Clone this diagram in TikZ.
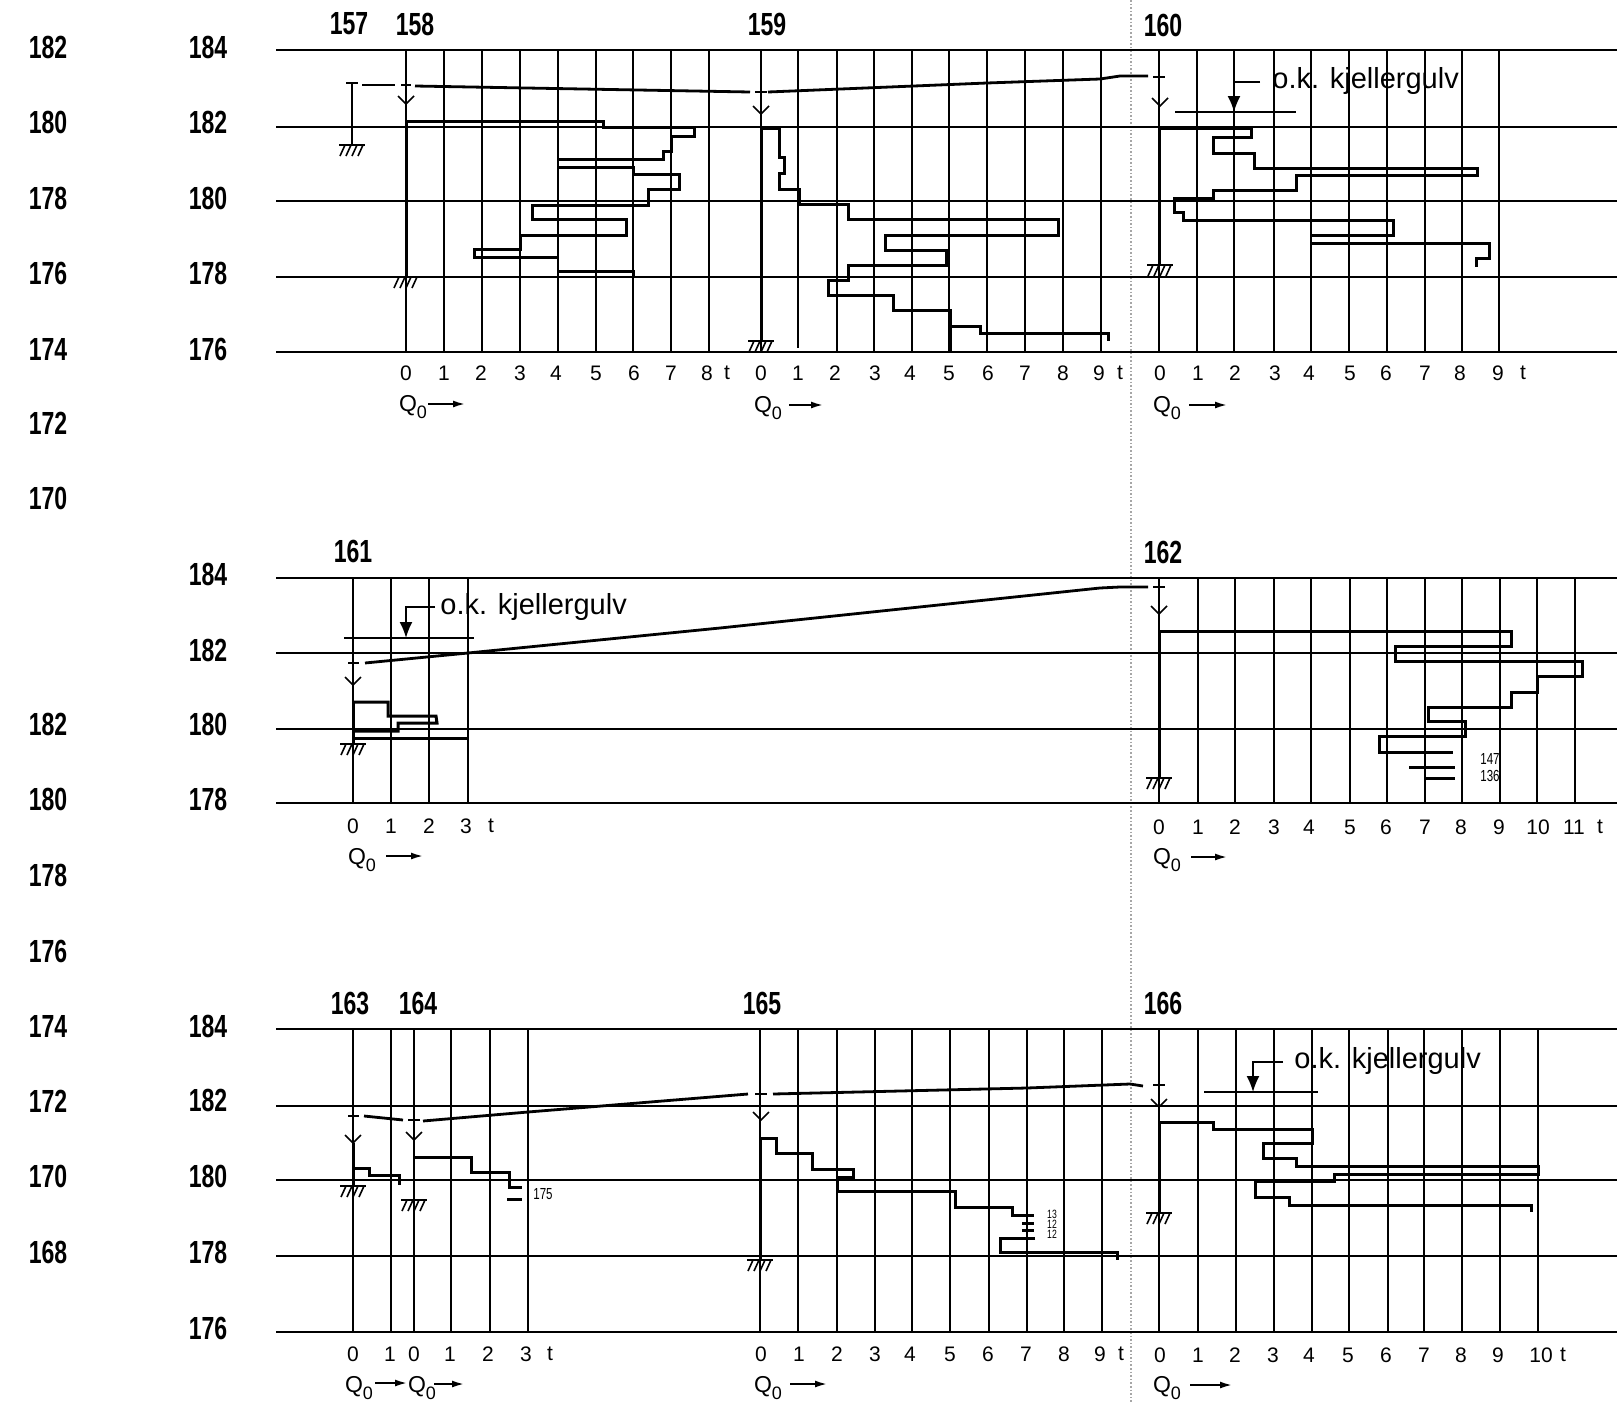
\documentclass[tikz,border=0pt]{standalone}
\usepackage{fontspec}
\setmainfont{Liberation Sans}
\newfontfamily\elevfont[FakeStretch=0.72]{Liberation Sans}
\usetikzlibrary{arrows.meta}
\newcommand{\Qzero}{Q\raisebox{-3.5pt}{\small 0}}
\tikzset{
  gridline/.style={black, line width=0.8pt},
  boring/.style={black, line width=1.5pt, line join=miter},
  waterline/.style={black, line width=1.4pt},
  elev/.style={font=\elevfont\bfseries\fontsize{16}{16}\selectfont, inner sep=0pt},
  ticknum/.style={font=\fontsize{10.5}{10.5}\selectfont, inner sep=0pt},
  qlabel/.style={font=\fontsize{11.5}{11.5}\selectfont, inner sep=0pt},
  floorlabel/.style={font=\fontsize{14.5}{14.5}\selectfont, inner sep=0pt},
  smallnum/.style={font=\elevfont\fontsize{8}{8}\selectfont, inner sep=0pt},
  tinynum/.style={font=\elevfont\fontsize{6}{6}\selectfont, inner sep=0pt},
  qarrow/.style={black, line width=0.9pt, -{Latex[length=6pt,width=3.5pt]}},
  floorarrow/.style={black, line width=0.9pt, -{Latex[length=8pt,width=6.5pt]}},
  groundmark/.pic={
    \draw[gridline] (-13,0) -- (13,0);
    \draw[gridline] (-12,11) -- (-7,0);
    \draw[gridline] (-6,11) -- (-1,0);
    \draw[gridline] (0,11) -- (5,0);
    \draw[gridline] (6,11) -- (11,0);
  },
  levelarrow/.pic={
    \draw[gridline] (-8,-8) -- (0,0) -- (8,-8);
  }
}
\begin{document}
\begin{tikzpicture}[x=0.5pt, y=-0.5pt]
\useasboundingbox (0,0) rectangle (1617,1403);

\draw[gridline, densely dotted, gray!70] (1131,0) -- (1131,1403);

\node[elev] (la182) at (48,47) {182};
\node[elev] (la180) at (48,122) {180};
\node[elev] (la178) at (48,198) {178};
\node[elev] (la176) at (48,273) {176};
\node[elev] (la174) at (48,349) {174};
\node[elev] (la172) at (48,423) {172};
\node[elev] (la170) at (48,498) {170};
\node[elev] (lb182) at (48,724) {182};
\node[elev] (lb180) at (48,799) {180};
\node[elev] (lb178) at (48,875) {178};
\node[elev] (lb176) at (48,951) {176};
\node[elev] (lb174) at (48,1026) {174};
\node[elev] (lb172) at (48,1101) {172};
\node[elev] (lb170) at (48,1176) {170};
\node[elev] (lb168) at (48,1252) {168};

\node[elev] (ra184) at (208,47) {184};
\node[elev] (ra182) at (208,122) {182};
\node[elev] (ra180) at (208,198) {180};
\node[elev] (ra178) at (208,273) {178};
\node[elev] (ra176) at (208,349) {176};
\node[elev] (rb184) at (208,574) {184};
\node[elev] (rb182) at (208,650) {182};
\node[elev] (rb180) at (208,724) {180};
\node[elev] (rb178) at (208,799) {178};
\node[elev] (rc184) at (208,1026) {184};
\node[elev] (rc182) at (208,1100) {182};
\node[elev] (rc180) at (208,1176) {180};
\node[elev] (rc178) at (208,1252) {178};
\node[elev] (rc176) at (208,1328) {176};

\node[elev] (b157) at (349,24) {157};
\node[elev] (b158) at (415,24) {158};
\node[elev] (b159) at (767,24) {159};
\node[elev] (b160) at (1163,25) {160};
\node[elev] (b161) at (353,551) {161};
\node[elev] (b162) at (1163,552) {162};
\node[elev] (b163) at (350,1003) {163};
\node[elev] (b164) at (418,1003) {164};
\node[elev] (b165) at (762,1003) {165};
\node[elev] (b166) at (1163,1003) {166};

\draw[gridline] (276,50) -- (1617,50);
\draw[gridline] (276,127) -- (1617,127);
\draw[gridline] (276,201) -- (1617,201);
\draw[gridline] (276,277) -- (1617,277);
\draw[gridline] (276,352) -- (1617,352);
\draw[gridline] (276,578) -- (1617,578);
\draw[gridline] (276,653) -- (1617,653);
\draw[gridline] (276,729) -- (1617,729);
\draw[gridline] (276,803) -- (1617,803);
\draw[gridline] (276,1029) -- (1617,1029);
\draw[gridline] (276,1106) -- (1617,1106);
\draw[gridline] (276,1180) -- (1617,1180);
\draw[gridline] (276,1256) -- (1617,1256);
\draw[gridline] (276,1332) -- (1617,1332);

\draw[gridline] (406,50) -- (406,352);
\draw[gridline] (444,50) -- (444,352);
\draw[gridline] (482,50) -- (482,352);
\draw[gridline] (520,50) -- (520,352);
\draw[gridline] (558,50) -- (558,352);
\draw[gridline] (596,50) -- (596,352);
\draw[gridline] (633,50) -- (633,352);
\draw[gridline] (671,50) -- (671,352);
\draw[gridline] (709,50) -- (709,352);
\draw[gridline] (761,50) -- (761,352);
\draw[gridline] (798,50) -- (798,348);
\draw[gridline] (837,50) -- (837,352);
\draw[gridline] (874,50) -- (874,352);
\draw[gridline] (912,50) -- (912,352);
\draw[gridline] (949,50) -- (949,352);
\draw[gridline] (987,50) -- (987,352);
\draw[gridline] (1025,50) -- (1025,352);
\draw[gridline] (1063,50) -- (1063,352);
\draw[gridline] (1101,50) -- (1101,352);
\draw[gridline] (1159,50) -- (1159,352);
\draw[gridline] (1197,50) -- (1197,352);
\draw[gridline] (1234,50) -- (1234,352);
\draw[gridline] (1274,50) -- (1274,352);
\draw[gridline] (1311,50) -- (1311,352);
\draw[gridline] (1349,50) -- (1349,352);
\draw[gridline] (1387,50) -- (1387,352);
\draw[gridline] (1425,50) -- (1425,352);
\draw[gridline] (1462,50) -- (1462,352);
\draw[gridline] (1499,50) -- (1499,352);

\draw[gridline] (353,578) -- (353,803);
\draw[gridline] (391,578) -- (391,803);
\draw[gridline] (429,578) -- (429,803);
\draw[gridline] (468,578) -- (468,803);
\draw[gridline] (1159,578) -- (1159,803);
\draw[gridline] (1198,578) -- (1198,803);
\draw[gridline] (1235,578) -- (1235,803);
\draw[gridline] (1274,578) -- (1274,803);
\draw[gridline] (1311,578) -- (1311,803);
\draw[gridline] (1350,578) -- (1350,803);
\draw[gridline] (1387,578) -- (1387,803);
\draw[gridline] (1425,578) -- (1425,803);
\draw[gridline] (1462,578) -- (1462,803);
\draw[gridline] (1500,578) -- (1500,803);
\draw[gridline] (1537,578) -- (1537,803);
\draw[gridline] (1575,578) -- (1575,803);

\draw[gridline] (353,1029) -- (353,1332);
\draw[gridline] (391,1029) -- (391,1332);
\draw[gridline] (414,1029) -- (414,1332);
\draw[gridline] (451,1029) -- (451,1332);
\draw[gridline] (490,1029) -- (490,1332);
\draw[gridline] (528,1029) -- (528,1332);
\draw[gridline] (760,1029) -- (760,1332);
\draw[gridline] (798,1029) -- (798,1332);
\draw[gridline] (837,1029) -- (837,1332);
\draw[gridline] (875,1029) -- (875,1332);
\draw[gridline] (912,1029) -- (912,1332);
\draw[gridline] (950,1029) -- (950,1332);
\draw[gridline] (989,1029) -- (989,1332);
\draw[gridline] (1027,1029) -- (1027,1332);
\draw[gridline] (1064,1029) -- (1064,1332);
\draw[gridline] (1102,1029) -- (1102,1332);
\draw[gridline] (1159,1029) -- (1159,1332);
\draw[gridline] (1198,1029) -- (1198,1332);
\draw[gridline] (1236,1029) -- (1236,1332);
\draw[gridline] (1274,1029) -- (1274,1332);
\draw[gridline] (1312,1029) -- (1312,1332);
\draw[gridline] (1349,1029) -- (1349,1332);
\draw[gridline] (1388,1029) -- (1388,1332);
\draw[gridline] (1424,1029) -- (1424,1332);
\draw[gridline] (1462,1029) -- (1462,1332);
\draw[gridline] (1500,1029) -- (1500,1332);
\draw[gridline] (1538,1029) -- (1538,1332);

\draw[gridline] (352,83) -- (352,145);
\draw[waterline] (346,83) -- (358,83);
\draw[waterline] (362,85) -- (395,85);
\draw[waterline] (401,85) -- (411,85);
\draw[waterline] (415,86) -- (750,92);
\draw[waterline] (755,92) -- (767,92);
\draw[waterline] (768,92) -- (987,83) -- (1100,79) -- (1120,76) -- (1148,76);
\draw[waterline] (1153,77) -- (1165,77);
\draw[boring] (406,120) -- (406,277);
\draw[boring] (761,127) -- (761,341);
\draw[boring] (1159,128) -- (1159,265);
\draw[boring] (950,310) -- (950,352);
\pic at (352,145) {groundmark};
\pic at (406,277) {groundmark};
\pic at (761,341) {groundmark};
\pic at (1160,265) {groundmark};
\pic at (406,104) {levelarrow};
\pic at (761,114) {levelarrow};
\pic at (1160,106) {levelarrow};

\draw[boring] (406,121) -- (603,121) -- (603,127) -- (694,127) -- (694,136) -- (671,136) -- (671,151) -- (663,151) -- (663,159) -- (558,159);
\draw[boring] (558,167) -- (633,167) -- (633,174) -- (679,174) -- (679,189) -- (648,189) -- (648,205) -- (532,205) -- (532,219) -- (626,219) -- (626,235) -- (520,235) -- (520,249) -- (474,249) -- (474,257) -- (558,257);
\draw[boring] (558,271) -- (633,271) -- (633,277);

\draw[boring] (761,128) -- (779,128) -- (779,157) -- (784,157) -- (784,173) -- (779,173) -- (779,189) -- (799,189) -- (799,204) -- (848,204) -- (848,219) -- (1058,219) -- (1058,235) -- (885,235) -- (885,250) -- (946,250) -- (946,265) -- (848,265) -- (848,280) -- (828,280) -- (828,295) -- (893,295) -- (893,310) -- (950,310) -- (950,326) -- (980,326) -- (980,333) -- (1108,333) -- (1108,341);

\draw[boring] (1160,128) -- (1251,128) -- (1251,137) -- (1213,137) -- (1213,153) -- (1254,153) -- (1254,168) -- (1477,168) -- (1477,175) -- (1296,175) -- (1296,190) -- (1213,190) -- (1213,198) -- (1174,198) -- (1174,212) -- (1183,212) -- (1183,220) -- (1393,220) -- (1393,235) -- (1312,235);
\draw[boring] (1312,243) -- (1489,243) -- (1489,258) -- (1476,258) -- (1476,267);

\draw[waterline] (1175,112) -- (1296,112);
\draw[floorarrow] (1260,82) -- (1234,82) -- (1234,112);
\node[floorlabel, anchor=west] (fa) at (1272,81) {o.k. kjellergulv};

\node[ticknum] (a0) at (406,373) {0};
\node[ticknum] (a1) at (444,373) {1};
\node[ticknum] (a2) at (481,373) {2};
\node[ticknum] (a3) at (520,373) {3};
\node[ticknum] (a4) at (556,373) {4};
\node[ticknum] (a5) at (596,373) {5};
\node[ticknum] (a6) at (634,373) {6};
\node[ticknum] (a7) at (671,373) {7};
\node[ticknum] (a8) at (707,373) {8};
\node[ticknum] (at) at (727,373) {t};
\node[ticknum] (b0) at (761,373) {0};
\node[ticknum] (b1) at (798,373) {1};
\node[ticknum] (b2) at (835,373) {2};
\node[ticknum] (b3) at (875,373) {3};
\node[ticknum] (b4) at (910,373) {4};
\node[ticknum] (b5) at (949,373) {5};
\node[ticknum] (b6) at (988,373) {6};
\node[ticknum] (b7) at (1025,373) {7};
\node[ticknum] (b8) at (1063,373) {8};
\node[ticknum] (b9) at (1099,373) {9};
\node[ticknum] (bt) at (1120,373) {t};
\node[ticknum] (c0) at (1160,373) {0};
\node[ticknum] (c1) at (1198,373) {1};
\node[ticknum] (c2) at (1235,373) {2};
\node[ticknum] (c3) at (1275,373) {3};
\node[ticknum] (c4) at (1309,373) {4};
\node[ticknum] (c5) at (1350,373) {5};
\node[ticknum] (c6) at (1386,373) {6};
\node[ticknum] (c7) at (1425,373) {7};
\node[ticknum] (c8) at (1460,373) {8};
\node[ticknum] (c9) at (1498,373) {9};
\node[ticknum] (ct) at (1523,373) {t};

\node[qlabel] (qa) at (413,407) {\Qzero};
\node[qlabel] (qb) at (768,408) {\Qzero};
\node[qlabel] (qc) at (1167,408) {\Qzero};
\draw[qarrow] (428,404) -- (465,404);
\draw[qarrow] (789,405) -- (823,405);
\draw[qarrow] (1189,405) -- (1227,405);

\draw[waterline] (348,663) -- (359,663);
\draw[waterline] (365,663) -- (468,653) -- (720,628) -- (1100,588) -- (1120,587) -- (1148,587);
\draw[waterline] (1153,587) -- (1165,587);
\pic at (353,685) {levelarrow};
\pic at (1159,614) {levelarrow};
\draw[boring] (353,702) -- (353,744);
\draw[boring] (1159,631) -- (1159,778);
\pic at (353,744) {groundmark};
\pic at (1159,778) {groundmark};

\draw[waterline] (344,638) -- (474,638);
\draw[floorarrow] (435,607) -- (406,607) -- (406,638);
\node[floorlabel, anchor=west] (fb) at (440,607) {o.k. kjellergulv};

\draw[boring] (353,702) -- (388,702) -- (388,716) -- (436,716) -- (437,723) -- (398,723) -- (398,731) -- (353,731);
\draw[boring] (353,738) -- (468,738);

\draw[boring] (1159,631) -- (1511,631) -- (1511,646) -- (1395,646) -- (1395,661) -- (1582,661) -- (1582,676) -- (1537,676) -- (1537,692) -- (1511,692) -- (1511,707) -- (1428,707) -- (1428,721) -- (1465,721) -- (1465,736) -- (1379,736) -- (1379,752) -- (1453,752);
\draw[boring] (1409,767) -- (1455,767);
\draw[boring] (1424,778) -- (1455,778);
\node[smallnum] (s147) at (1490,759) {147};
\node[smallnum] (s136) at (1490,776) {136};

\node[ticknum] (d0) at (353,826) {0};
\node[ticknum] (d1) at (391,826) {1};
\node[ticknum] (d2) at (429,826) {2};
\node[ticknum] (d3) at (466,826) {3};
\node[ticknum] (dt) at (491,826) {t};
\node[ticknum] (e0) at (1159,827) {0};
\node[ticknum] (e1) at (1198,827) {1};
\node[ticknum] (e2) at (1235,827) {2};
\node[ticknum] (e3) at (1274,827) {3};
\node[ticknum] (e4) at (1309,827) {4};
\node[ticknum] (e5) at (1350,827) {5};
\node[ticknum] (e6) at (1386,827) {6};
\node[ticknum] (e7) at (1425,827) {7};
\node[ticknum] (e8) at (1461,827) {8};
\node[ticknum] (e9) at (1499,827) {9};
\node[ticknum] (e10) at (1538,827) {10};
\node[ticknum] (e11) at (1574,827) {11};
\node[ticknum] (et) at (1600,827) {t};
\node[qlabel] (qd) at (362,860) {\Qzero};
\node[qlabel] (qe) at (1167,860) {\Qzero};
\draw[qarrow] (386,856) -- (423,856);
\draw[qarrow] (1191,857) -- (1227,857);

\draw[waterline] (348,1116) -- (359,1116);
\draw[waterline] (364,1116) -- (403,1120);
\draw[waterline] (408,1120) -- (420,1120);
\draw[waterline] (423,1121) -- (528,1112) -- (748,1094);
\draw[waterline] (755,1094) -- (767,1094);
\draw[waterline] (773,1094) -- (1027,1088) -- (1130,1084) -- (1143,1086);
\draw[waterline] (1153,1085) -- (1165,1085);
\pic at (353,1143) {levelarrow};
\pic at (414,1140) {levelarrow};
\pic at (761,1120) {levelarrow};
\pic at (1159,1107) {levelarrow};
\draw[boring] (353,1143) -- (353,1186);
\draw[boring] (760,1138) -- (760,1260);
\draw[boring] (1159,1122) -- (1159,1213);
\pic at (353,1186) {groundmark};
\pic at (414,1200) {groundmark};
\pic at (760,1260) {groundmark};
\pic at (1159,1213) {groundmark};

\draw[boring] (353,1168) -- (369,1168) -- (369,1175) -- (399,1175) -- (399,1185);
\draw[boring] (414,1157) -- (471,1157) -- (471,1172) -- (509,1172) -- (509,1187) -- (522,1187);
\draw[boring] (507,1199) -- (522,1199);
\node[smallnum] (s175) at (543,1194) {175};

\draw[boring] (760,1138) -- (776,1138) -- (776,1153) -- (812,1153) -- (812,1169) -- (853,1169) -- (853,1177) -- (837,1177) -- (837,1191) -- (955,1191) -- (955,1207) -- (1012,1207) -- (1012,1215) -- (1034,1215);
\draw[boring] (1022,1223) -- (1034,1223);
\draw[boring] (1022,1230) -- (1034,1230);
\draw[boring] (1035,1238) -- (1000,1238) -- (1000,1252) -- (1117,1252) -- (1117,1260);
\node[tinynum] (s13) at (1052,1214) {13};
\node[tinynum] (s12a) at (1052,1224) {12};
\node[tinynum] (s12b) at (1052,1234) {12};

\draw[boring] (1159,1122) -- (1213,1122) -- (1213,1129) -- (1312,1129) -- (1312,1143) -- (1263,1143) -- (1263,1158) -- (1296,1158) -- (1296,1166) -- (1538,1166) -- (1538,1174) -- (1334,1174) -- (1334,1181) -- (1255,1181) -- (1255,1197) -- (1289,1197) -- (1289,1205) -- (1531,1205) -- (1531,1212);

\draw[waterline] (1204,1092) -- (1318,1092);
\draw[floorarrow] (1283,1062) -- (1253,1062) -- (1253,1092);
\node[floorlabel, anchor=west] (fc) at (1294,1061) {o.k. kjellergulv};

\node[ticknum] (f0) at (353,1354) {0};
\node[ticknum] (f1) at (390,1354) {1};
\node[ticknum] (g0) at (414,1354) {0};
\node[ticknum] (g1) at (450,1354) {1};
\node[ticknum] (g2) at (488,1354) {2};
\node[ticknum] (g3) at (526,1354) {3};
\node[ticknum] (gt) at (550,1354) {t};
\node[ticknum] (h0) at (761,1354) {0};
\node[ticknum] (h1) at (799,1354) {1};
\node[ticknum] (h2) at (837,1354) {2};
\node[ticknum] (h3) at (875,1354) {3};
\node[ticknum] (h4) at (910,1354) {4};
\node[ticknum] (h5) at (950,1354) {5};
\node[ticknum] (h6) at (988,1354) {6};
\node[ticknum] (h7) at (1026,1354) {7};
\node[ticknum] (h8) at (1064,1354) {8};
\node[ticknum] (h9) at (1100,1354) {9};
\node[ticknum] (ht) at (1121,1354) {t};
\node[ticknum] (i0) at (1160,1355) {0};
\node[ticknum] (i1) at (1198,1355) {1};
\node[ticknum] (i2) at (1235,1355) {2};
\node[ticknum] (i3) at (1273,1355) {3};
\node[ticknum] (i4) at (1309,1355) {4};
\node[ticknum] (i5) at (1348,1355) {5};
\node[ticknum] (i6) at (1386,1355) {6};
\node[ticknum] (i7) at (1424,1355) {7};
\node[ticknum] (i8) at (1461,1355) {8};
\node[ticknum] (i9) at (1498,1355) {9};
\node[ticknum] (i10) at (1541,1355) {10};
\node[ticknum] (it) at (1563,1355) {t};
\node[qlabel] (qf) at (359,1388) {\Qzero};
\node[qlabel] (qg) at (422,1388) {\Qzero};
\node[qlabel] (qh) at (768,1388) {\Qzero};
\node[qlabel] (qi) at (1167,1388) {\Qzero};
\draw[qarrow] (375,1383) -- (407,1383);
\draw[qarrow] (434,1384) -- (464,1384);
\draw[qarrow] (790,1384) -- (827,1384);
\draw[qarrow] (1190,1385) -- (1232,1385);
\end{tikzpicture}
\end{document}
